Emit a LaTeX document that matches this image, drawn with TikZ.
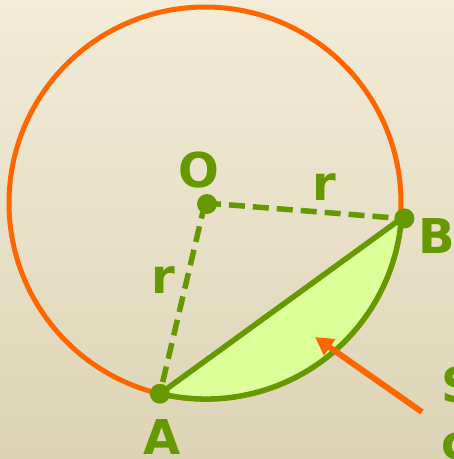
\documentclass[tikz,border=0pt]{standalone}
\usepackage{fontspec}
\setmainfont{DejaVu Sans}
\usetikzlibrary{arrows.meta,calc}
\definecolor{segorange}{RGB}{255,102,0}
\definecolor{seggreen}{RGB}{102,153,0}
\definecolor{segfill}{RGB}{221,255,153}
\definecolor{bgtop}{RGB}{242,236,216}
\definecolor{bgbottom}{RGB}{221,212,182}
\tikzset{
  rim/.style={draw=segorange, line width=5pt},
  radiusline/.style={draw=seggreen, line width=5.5pt, dash pattern=on 16pt off 8pt},
  chordline/.style={draw=seggreen, line width=5.5pt, fill=segfill, line join=round},
  ptdot/.style={circle, fill=seggreen, inner sep=0pt, minimum size=20pt},
  lbl/.style={text=seggreen, font=\fontsize{48}{48}\selectfont\bfseries, inner sep=0pt},
  pointer/.style={-{Triangle[length=18pt,width=19pt]}, draw=segorange, line width=6pt}
}

\begin{document}
\begin{tikzpicture}[x=1pt,y=-1pt]
  \useasboundingbox (0,0) rectangle (454,459);
  \shade[top color=bgtop, bottom color=bgbottom] (0,0) rectangle (454,459);
  \clip (0,0) rectangle (454,459);
  % circle and its segment
  \coordinate (c) at (205,203);
  \coordinate (b) at ($(c)+(4.5:197)$);
  \coordinate (a) at ($(c)+(103.3:196)$);
  \draw[rim] (c) circle[radius=196];
  \path[chordline] (a) -- (b) arc[start angle=4.5, end angle=103.3, radius=196] -- cycle;
  \draw[radiusline] (c) -- (b);
  \draw[radiusline] (c) -- (a);
  \node[ptdot] (o) at ($(c)+(2,1)$) {};
  \node[ptdot] (bdot) at ($(b)+(3,0)$) {};
  \node[ptdot] (adot) at (a) {};
  % labels
  \node[lbl] (olbl) at (199,170) {O};
  \node[lbl] (rtop) at (324,187) {r};
  \node[lbl] (rleft) at (163,280) {r};
  \node[lbl] (blbl) at (437,236) {B};
  \node[lbl] (albl) at (162,437) {A};
  \node[lbl, anchor=base west] (stxt) at (441,402) {S};
  \node[lbl, anchor=base west] (ctxt) at (441,459) {c};
  % pointer into the segment
  \coordinate (tail) at (422,412);
  \coordinate (tip) at (315,337);
  \draw[pointer] (tail) -- (tip);
\end{tikzpicture}
\end{document}
